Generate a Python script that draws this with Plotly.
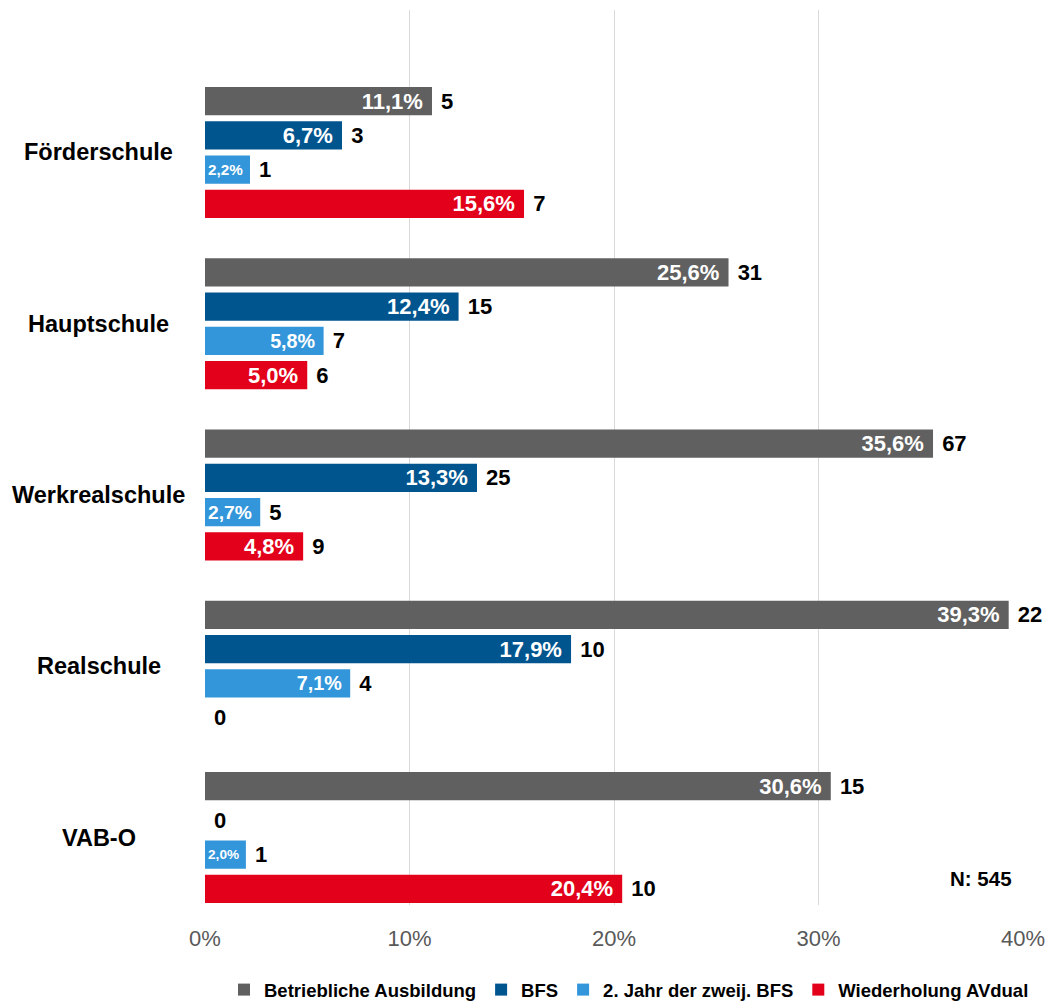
import plotly.graph_objects as go

categories = ["Förderschule", "Hauptschule", "Werkrealschule", "Realschule", "VAB-O"]
series_names = ["Betriebliche Ausbildung", "BFS", "2. Jahr der zweij. BFS", "Wiederholung AVdual"]
pct_betrieb = [11.1, 25.6, 35.6, 39.3, 30.6]
pct_bfs = [6.7, 12.4, 13.3, 17.9, 0.0]
pct_jahr2 = [2.2, 5.8, 2.7, 7.1, 2.0]
pct_wdh = [15.6, 5.0, 4.8, 0.0, 20.4]
n_betrieb = [5, 31, 67, 22, 15]
n_bfs = [3, 15, 25, 10, 0]
n_jahr2 = [1, 7, 5, 4, 1]
n_wdh = [7, 6, 9, 0, 10]
colors = ["#606060", "#00558f", "#3396da", "#e2001a"]
x_ticks = [0, 10, 20, 30, 40]
total_label = "N: 545"

pcts = [pct_betrieb, pct_bfs, pct_jahr2, pct_wdh]
counts = [n_betrieb, n_bfs, n_jahr2, n_wdh]

FONT = "Liberation Sans, Arial, sans-serif"
NB = "\u00a0"

def pct_text(v):
    return (f"{v:.1f}".replace(".", ",") + "%" + NB) if v > 0 else ""

fig = go.Figure()
# add in reverse so that the first series sits on top within each group
for i in reversed(range(4)):
    fig.add_trace(go.Bar(
        y=categories, x=pcts[i], orientation="h",
        name=series_names[i], marker=dict(color=colors[i], line=dict(width=0)),
        offsetgroup=str(i),
        text=[pct_text(v) for v in pcts[i]], texttemplate="%{text}",
        textposition="inside", insidetextanchor="end",
        constraintext="inside" if i == 2 else "none",
        textfont=dict(family=FONT, size=22, color="white", weight="bold"),
        cliponaxis=True,
    ))
    fig.add_trace(go.Bar(
        y=categories, x=pcts[i], orientation="h",
        name=series_names[i] + " n", showlegend=False,
        marker=dict(color="rgba(0,0,0,0)", line=dict(width=0)),
        offsetgroup=str(i),
        text=[NB + str(c) for c in counts[i]], texttemplate="%{text}",
        textposition="outside", constraintext="none",
        textfont=dict(family=FONT, size=22, color="black", weight="bold"),
        cliponaxis=False, hoverinfo="skip",
    ))

for c in categories:
    fig.add_annotation(text=c, xref="paper", yref="y", x=-0.130, y=c,
                       xanchor="center", yanchor="middle", showarrow=False,
                       font=dict(family=FONT, size=23.5, color="black", weight="bold"))

fig.add_annotation(text=total_label, xref="paper", yref="paper", x=0.949, y=0.030,
                   xanchor="center", yanchor="middle", showarrow=False,
                   font=dict(family=FONT, size=20.5, color="black", weight="bold"))

fig.update_layout(
    width=1049, height=993,
    margin=dict(l=197, r=34, t=2, b=96, autoexpand=False),
    plot_bgcolor="white", paper_bgcolor="white",
    barmode="group", bargap=0.2, bargroupgap=0.17,
    separators=",.",
    xaxis=dict(range=[0, 40], tickvals=x_ticks,
               ticktext=[f"{v}%" for v in x_ticks],
               showgrid=True, gridcolor="#d9d9d9", gridwidth=1,
               zeroline=False, showline=False, ticks="",
               ticklabelstandoff=18,
               tickfont=dict(family=FONT, size=22, color="#595959")),
    yaxis=dict(type="category", categoryorder="array",
               categoryarray=list(reversed(categories)),
               range=[-0.394, 4.832], showticklabels=False,
               showgrid=False, zeroline=False, showline=False),
    legend=dict(orientation="h", xref="container", yref="container",
                x=0.592, xanchor="center", y=0.011, yanchor="middle",
                traceorder="reversed", itemwidth=30,
                font=dict(family=FONT, size=18.5, color="black", weight="bold")),
    showlegend=True,
)

fig.write_html("out.html")
